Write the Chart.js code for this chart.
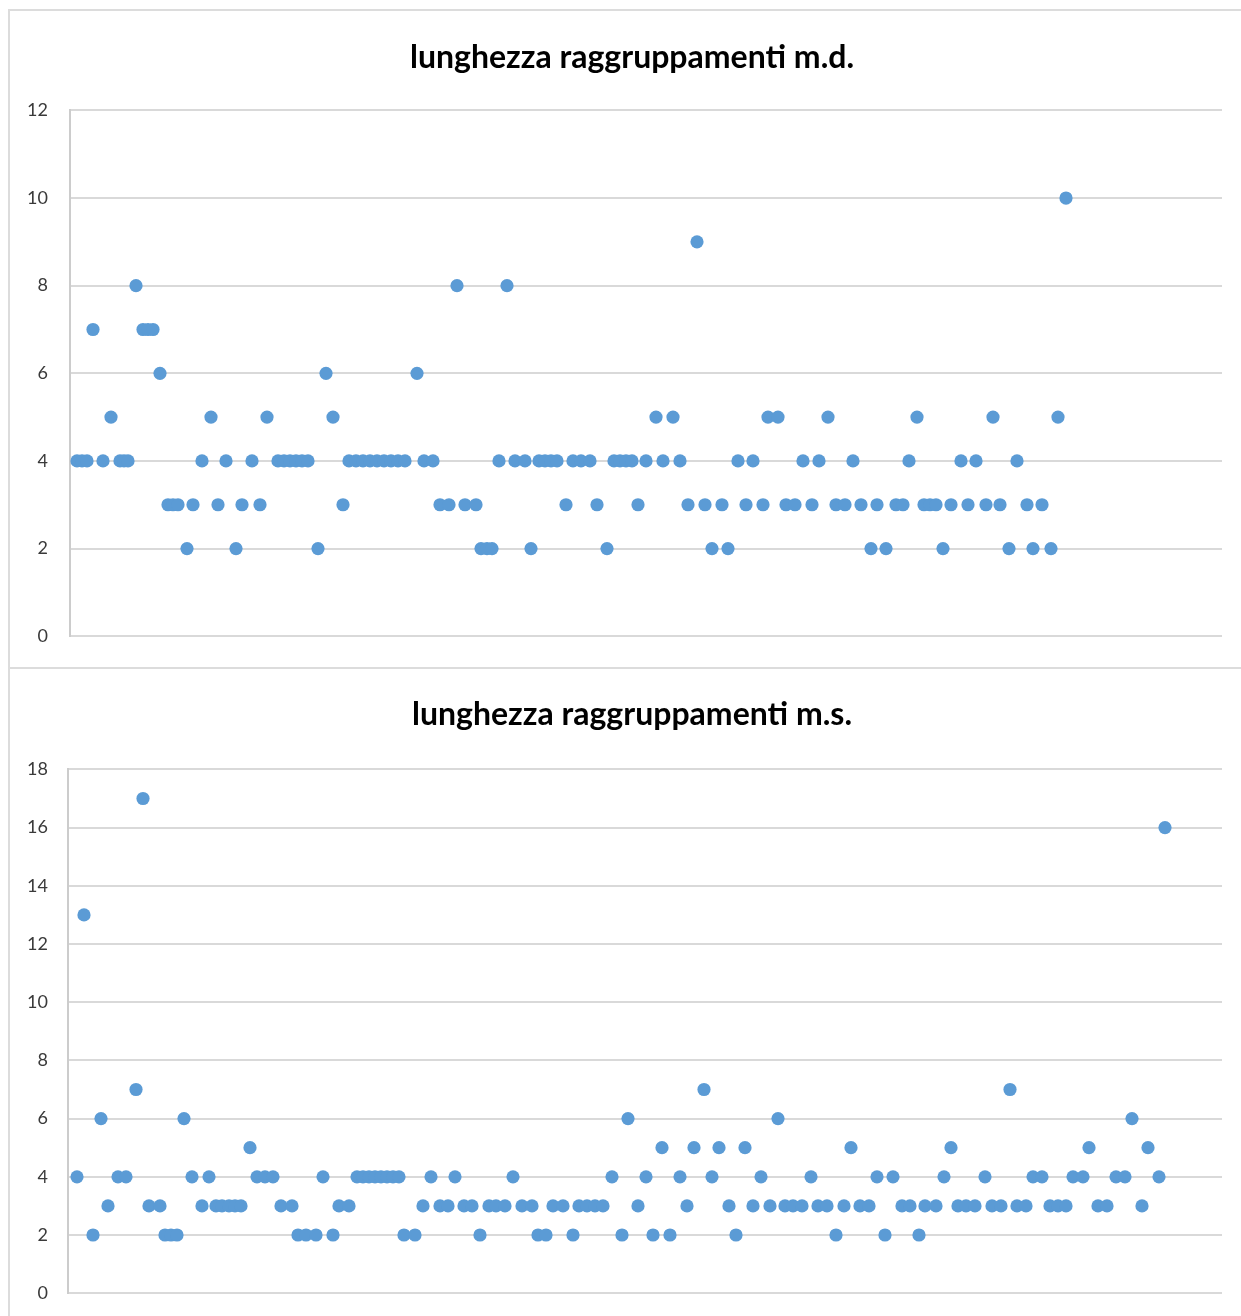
<!DOCTYPE html>
<html>
<head>
<meta charset="utf-8">
<script src="https://cdn.jsdelivr.net/npm/chart.js@4.4.1/dist/chart.umd.min.js"></script>
<style>
  html, body { margin: 0; padding: 0; background: #fff; width: 1241px; height: 1316px; overflow: hidden; }
  .panel { position: absolute; box-sizing: border-box; border: 2px solid #dcdcdc; border-right: none; background: #fff; }
  #p1 { left: 8px; top: 9px; width: 1240px; height: 660px; }
  #p2 { left: 8px; top: 667px; width: 1240px; height: 670px; }
  canvas { position: absolute; left: 0; top: 0; }
</style>
</head>
<body>
<div class="panel" id="p1"><canvas id="c1" width="1231" height="658"></canvas></div>
<div class="panel" id="p2"><canvas id="c2" width="1231" height="655"></canvas></div>
<script>
// Cluster lengths, right side (m.d.): position along the sequence and length
const mdPos = [
  1.4, 2.4, 3.4, 4.6, 6.6, 8.2, 10, 10.8, 11.6, 13.2, 14.6, 15.6, 16.6, 18,
  19.6, 20.6, 21.6, 23.4, 24.6, 26.4, 28.2, 29.6, 31.2, 33.2, 34.4, 36.4, 38, 39.4,
  41.6, 42.8, 44, 45.2, 46.4, 47.6, 49.6, 51.2, 52.6, 54.6,
  55.8, 57.2, 58.6, 60, 61.4, 62.8, 64.2, 65.6, 67, 69.4, 70.8, 72.6, 74, 75.8,
  77.4, 79, 81.2, 82.2, 83.4, 84.4, 85.8, 87.4, 89, 91, 92.2, 93.8, 95, 96.2, 97.4,
  99.2, 100.6, 102.2, 104, 105.4, 107.4, 108.8, 110, 111.2, 112.4, 113.6, 115.2,
  117.2, 118.6, 120.6, 122, 123.6, 125.4, 127, 128.4, 130.4, 131.6, 133.6, 135.2,
  136.6, 138.6, 139.6, 141.6, 143.2, 145, 146.6, 148.4, 149.8, 151.6, 153.2, 155,
  156.6, 158.2, 160.2, 161.4, 163.2, 165.2, 166.6, 167.8, 169.4, 170.8, 172, 173.2,
  174.6, 176.2, 178.2, 179.6, 181.2, 183.2, 184.6, 186, 187.8, 189.4, 191.4, 192.6,
  194.4, 196.2, 197.6, 199.2
];
const mdLen = [
  4, 4, 4, 7, 4, 5, 4, 4, 4, 8, 7, 7, 7, 6,
  3, 3, 3, 2, 3, 4, 5, 3, 4, 2, 3, 4, 3, 5,
  4, 4, 4, 4, 4, 4, 2, 6, 5, 3,
  4, 4, 4, 4, 4, 4, 4, 4, 4, 6, 4, 4, 3, 3,
  8, 3, 3, 2, 2, 2, 4, 8, 4, 4, 2, 4, 4, 4, 4,
  3, 4, 4, 4, 3, 2, 4, 4, 4, 4, 3, 4,
  5, 4, 5, 4, 3, 9, 3, 2, 3, 2, 4, 3,
  4, 3, 5, 5, 3, 3, 4, 3, 4, 5, 3, 3,
  4, 3, 2, 3, 2, 3, 3, 4, 5, 3, 3, 3,
  2, 3, 4, 3, 4, 3, 5, 3, 2, 4, 3, 2,
  3, 2, 5, 10
];

// Cluster lengths, left side (m.s.)
const msPos = [
  1.8, 3.2, 5, 6.6, 8, 10, 11.6, 13.6, 15, 16.2, 18.4, 19.4, 20.6, 21.8, 23.2,
  24.8, 26.8, 28.2, 29.6, 30.8, 32.2, 33.4, 34.6, 36.4, 37.8, 39.4, 41, 42.6, 44.8,
  46, 47.6, 49.6, 51, 53, 54.2, 56.2, 57.8, 59, 60.2, 61.4, 62.6, 63.8, 65, 66.2,
  67.2, 69.4, 71, 72.6, 74.4, 76, 77.4, 79.2, 80.8, 82.4, 84.2, 85.6, 87.4, 89,
  90.8, 92.8, 94, 95.6, 97, 99, 101, 102.2, 103.8, 105.4, 107, 108.8, 110.8, 112,
  114, 115.6, 117, 118.8, 120.4, 122.4, 123.8, 125.2, 127.2, 128.8, 130.2, 132.2,
  133.6, 135.4, 137, 138.6, 140.4, 142, 143.4, 145, 146.8, 148.6, 150, 151.8,
  153.6, 155.2, 156.6, 158.4, 160.2, 161.8, 163.4, 165, 166.8, 168.4, 170.2, 171.4,
  173.6, 175.2, 176.6, 178, 179.6, 181.4, 183.4, 184.8, 186.6, 188.4, 189.8, 191.6,
  193, 194.8, 196.4, 198, 199.6, 201, 203, 204.2, 206, 207.8, 209.6, 211.4, 212.8,
  214.8, 216, 218.2, 219.4
];
const msLen = [
  4, 13, 2, 6, 3, 4, 4, 7, 17, 3, 3, 2, 2, 2, 6,
  4, 3, 4, 3, 3, 3, 3, 3, 5, 4, 4, 4, 3, 3,
  2, 2, 2, 4, 2, 3, 3, 4, 4, 4, 4, 4, 4, 4, 4,
  2, 2, 3, 4, 3, 3, 4, 3, 3, 2, 3, 3, 3, 4,
  3, 3, 2, 2, 3, 3, 2, 3, 3, 3, 3, 4, 2, 6,
  3, 4, 2, 5, 2, 4, 3, 5, 7, 4, 5, 3,
  2, 5, 3, 4, 3, 6, 3, 3, 3, 4, 3, 3,
  2, 3, 5, 3, 3, 4, 2, 4, 3, 3, 2, 3,
  3, 4, 5, 3, 3, 3, 4, 3, 3, 7, 3, 3,
  4, 4, 3, 3, 3, 4, 4, 5, 3, 3, 4, 4, 6,
  3, 5, 4, 16
];

const titles = ['lunghezza raggruppamenti m.d.', 'lunghezza raggruppamenti m.s.'];
const mdTicks = { max: 12, step: 2 };
const msTicks = { max: 18, step: 2 };

const dotColor = '#5b9bd5';
const gridColor = '#d9d9d9';
const labelColor = '#3a3a3a';
const uiFont = "Lato, 'Open Sans', 'Liberation Sans', sans-serif";

// The value axis is kept narrow so the title centres over the whole panel;
// widen the label clip region back to the canvas edge after layout.
const unclipAxisLabels = {
  id: 'unclipAxisLabels',
  afterLayout(chart) { chart.scales.y.left = 0; }
};

function makeChart(canvasId, pos, len, title, yTicks, xMax, pad, axisWidth, tickPad, titlePad) {
  const points = pos.map((p, i) => ({ x: p, y: len[i] }));
  return new Chart(document.getElementById(canvasId), {
    type: 'scatter',
    data: {
      datasets: [{
        data: points,
        backgroundColor: dotColor,
        borderColor: dotColor,
        pointRadius: 6.6,
        pointHoverRadius: 6.6,
        borderWidth: 0
      }]
    },
    plugins: [unclipAxisLabels],
    options: {
      responsive: false,
      animation: false,
      events: [],
      layout: { padding: pad },
      plugins: {
        legend: { display: false },
        tooltip: { enabled: false },
        title: {
          display: true,
          text: title,
          color: '#000',
          font: { family: uiFont, size: 32, weight: 'bold' },
          padding: titlePad
        }
      },
      scales: {
        x: {
          type: 'linear',
          display: false,
          min: 0,
          max: xMax
        },
        y: {
          min: 0,
          max: yTicks.max,
          afterFit: (s) => { s.width = axisWidth; },
          ticks: {
            stepSize: yTicks.step,
            color: labelColor,
            padding: tickPad,
            font: { family: uiFont, size: 18 }
          },
          grid: { color: gridColor, lineWidth: 2, drawTicks: false },
          border: { display: true, color: '#cccccc', width: 2 }
        }
      }
    }
  });
}

makeChart('c1', mdPos, mdLen, titles[0], mdTicks, 230.4,
  { left: 32, right: 19, top: 20, bottom: 28 }, 28, 22, { top: 7, bottom: 34 });
makeChart('c2', msPos, msLen, titles[1], msTicks, 230.8,
  { left: 32, right: 19, top: 19, bottom: 11 }, 26, 20, { top: 7, bottom: 36 });
</script>
</body>
</html>
